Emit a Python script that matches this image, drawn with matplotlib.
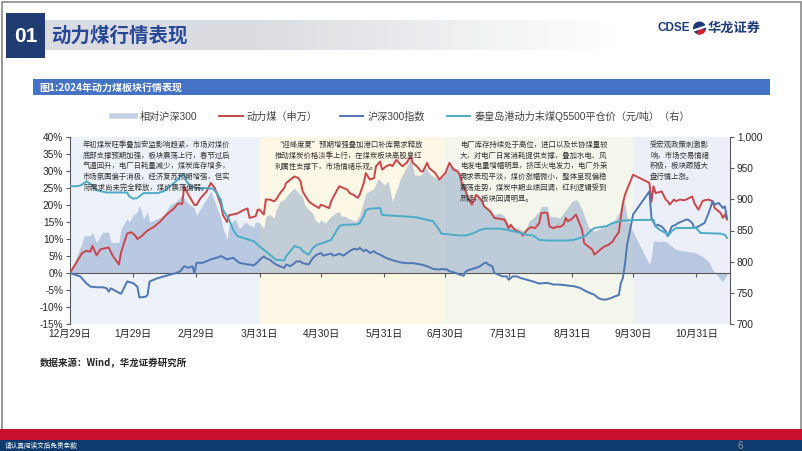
import numpy as np
import pandas as pd
import matplotlib
matplotlib.use('Agg')
import matplotlib.pyplot as plt
from matplotlib.lines import Line2D
from matplotlib.patches import Rectangle, Circle, Wedge
from matplotlib.ticker import FuncFormatter, MultipleLocator

plt.rcParams['font.family'] = ['Liberation Sans', 'Noto Sans CJK SC']

# ---- 数据（横轴为距 2023-12-29 的天数）----
base = pd.Timestamp('2023-12-29')

coal_days = [0, 6, 8, 10, 11, 13, 15, 19, 21, 24, 25, 28, 30, 32, 33, 35, 38, 41, 44, 47,
             51, 53, 55, 56, 58, 61, 62, 64, 67, 69, 71, 74, 75, 77, 78, 82, 85, 87, 88, 91,
             92, 93, 95, 96, 98, 100, 101, 103, 105, 106, 109, 110, 112, 113, 114, 117, 118, 120, 122, 123,
             125, 127, 128, 131, 132, 134, 136, 137, 139, 141, 142, 144, 145, 147, 149, 150, 152, 153, 155, 157,
             158, 160, 162, 163, 165, 167, 168, 170, 172, 173, 175, 176, 179, 181, 184, 186, 188, 190, 191, 192,
             194, 195, 197, 199, 200, 202, 203, 206, 208, 211, 213, 215, 216, 218, 221, 222, 224, 226, 228, 230,
             231, 233, 234, 235, 237, 239, 240, 242, 243, 244, 246, 248, 249, 251, 252, 254, 256, 257, 259, 261,
             262, 264, 266, 267, 269, 270, 271, 272, 273, 276, 284, 285, 286, 287, 290, 292, 293, 294, 296, 297,
             299, 301, 302, 305, 306, 308, 310, 311, 313, 315, 316, 319, 320, 321, 322]
coal_pct = [0, 5.9, 6.5, 6.3, 8.0, 5.2, 7.0, 7.5, 5.0, 2.5, 6.0, 11.6, 12.0, 11.0, 10.0, 10.8, 12.5, 13.5, 15.0, 17.0,
            19.0, 20.5, 20.3, 25.5, 23.0, 20.0, 20.0, 22.0, 24.0, 26.5, 25.0, 20.0, 17.0, 15.0, 17.0, 17.5, 18.5, 19.0, 16.2, 16.7,
            18.6, 18.6, 17.2, 21.6, 21.6, 21.1, 21.6, 23.5, 25.0, 26.5, 27.9, 28.4, 27.9, 27.0, 24.0, 21.1, 20.6, 19.8, 19.1, 20.1,
            19.6, 19.1, 21.1, 24.5, 25.5, 25.0, 24.5, 23.5, 23.0, 22.1, 23.0, 26.5, 29.4, 27.5, 27.9, 31.4, 32.8, 30.4, 31.4, 31.9,
            31.4, 33.3, 31.9, 31.4, 32.4, 34.3, 32.4, 31.4, 29.9, 29.9, 32.4, 30.9, 29.4, 27.5, 29.4, 32.4, 30.4, 29.9, 28.9, 26.5,
            24.0, 22.1, 20.1, 23.0, 22.5, 21.1, 19.6, 18.1, 16.2, 15.9, 15.7, 13.2, 14.2, 12.7, 11.8, 11.0, 12.7, 13.5, 13.2, 14.7,
            17.6, 17.8, 17.6, 13.7, 13.2, 13.7, 13.5, 14.2, 16.2, 15.2, 15.9, 17.2, 15.7, 12.7, 8.8, 7.8, 6.9, 5.4, 6.4, 7.4,
            7.8, 8.3, 9.3, 10.3, 12.0, 16.5, 20.5, 23.0, 24.5, 28.9, 26.5, 21.0, 25.5, 23.5, 24.0, 21.6, 21.1, 20.1, 21.6, 21.1,
            21.6, 21.4, 21.6, 22.5, 20.6, 18.6, 21.1, 21.4, 21.6, 21.1, 19.1, 17.6, 16.2, 17.2, 15.7]

hs300_days = [0, 5, 8, 10, 13, 16, 18, 19, 20, 23, 25, 26, 28, 31, 33, 34, 37, 38, 39, 43,
              46, 52, 54, 56, 58, 60, 61, 62, 65, 69, 72, 74, 77, 80, 83, 87, 88, 90, 92, 93,
              95, 96, 98, 100, 101, 103, 105, 106, 108, 110, 111, 113, 114, 117, 119, 121, 123, 124, 126, 128,
              129, 131, 132, 134, 137, 139, 141, 142, 144, 145, 147, 149, 150, 152, 155, 159, 162, 165, 168, 172,
              175, 178, 181, 182, 185, 186, 188, 190, 191, 193, 194, 196, 199, 201, 203, 204, 205, 207, 208, 210,
              212, 214, 215, 217, 219, 221, 224, 227, 230, 234, 237, 240, 244, 247, 250, 253, 257, 259, 261, 263,
              265, 267, 269, 270, 271, 272, 273, 276, 284, 285, 287, 288, 290, 292, 293, 295, 297, 298, 300, 302,
              303, 305, 306, 308, 311, 313, 315, 316, 318, 320, 321, 322]
hs300_pct = [0, -1.0, -3.0, -4.0, -4.2, -4.2, -4.5, -5.5, -4.5, -5.5, -6.1, -5.0, -2.5, -3.0, -4.0, -7.2, -7.0, -6.5, -2.5, -1.5,
             -1.0, 0.0, 0.5, 2.0, 1.5, 2.0, 0.0, 3.0, 3.0, 4.0, 4.5, 5.0, 4.0, 4.5, 3.0, 2.5, 2.5, 2.2, 3.2, 3.9,
             4.9, 4.4, 3.9, 2.9, 2.5, 2.0, 1.5, 2.5, 2.0, 2.9, 3.4, 3.4, 2.9, 2.5, 4.4, 5.4, 5.9, 5.1, 5.4, 5.7,
             5.1, 5.4, 5.7, 5.1, 6.4, 7.1, 6.9, 7.4, 6.4, 6.9, 5.9, 6.4, 5.9, 5.4, 4.4, 3.6, 3.1, 2.9, 2.9, 2.5,
             2.0, 1.2, 1.0, 1.2, 1.0, 0.5, 0.2, -0.2, -0.5, -0.8, 0.5, 1.0, 1.5, 2.0, 2.9, 3.1, 2.5, 2.0, 0.0, -0.5,
             -1.0, -1.0, -2.0, -1.0, -1.0, -1.5, -2.0, -2.5, -3.1, -2.9, -3.4, -3.4, -3.7, -3.9, -4.4, -5.4, -6.4, -7.4, -7.8, -7.8,
             -7.4, -6.9, -6.5, -3.0, -1.5, 2.5, 8.0, 17.2, 24.0, 16.2, 13.7, 14.2, 13.7, 12.3, 10.8, 13.7, 14.2, 14.7, 15.2, 15.7,
             15.7, 14.7, 13.2, 13.7, 14.7, 17.6, 21.1, 20.1, 20.6, 19.1, 19.6, 16.2]

qhd_days = [0, 3, 5, 7, 8, 10, 11, 13, 15, 18, 28, 29, 31, 33, 34, 36, 43, 46, 49, 52,
            54, 56, 57, 59, 62, 67, 70, 72, 74, 75, 78, 80, 82, 85, 88, 90, 92, 95, 98, 101,
            105, 106, 108, 110, 113, 114, 117, 119, 121, 124, 128, 130, 132, 134, 141, 142, 144, 145, 147, 152,
            153, 157, 162, 167, 170, 175, 178, 181, 182, 185, 188, 191, 194, 198, 201, 204, 211, 214, 217, 221,
            224, 227, 230, 234, 244, 247, 250, 253, 255, 257, 263, 266, 271, 279, 286, 287, 289, 292, 293, 295,
            297, 307, 309, 319, 321, 322]
qhd_price = [921, 921, 922, 926, 929, 925, 922, 915, 913, 911, 911, 905, 901, 902, 905, 910, 910, 913, 921, 929,
             937, 940, 929, 922, 918, 918, 917, 910, 899, 883, 867, 851, 841, 838, 835, 833, 827, 819, 811, 803,
             802, 809, 817, 825, 822, 817, 811, 822, 827, 830, 835, 846, 857, 859, 860, 862, 873, 883, 885, 886,
             875, 874, 873, 872, 871, 867, 865, 851, 845, 844, 843, 842, 842, 846, 851, 853, 853, 851, 849, 846,
             843, 842, 835, 834, 834, 835, 838, 842, 849, 854, 857, 862, 866, 867, 867, 857, 851, 846, 841, 849,
             854, 854, 846, 845, 843, 838]

rel_days = [0, 6, 7, 10, 11, 13, 15, 16, 19, 20, 24, 25, 28, 29, 31, 33, 34, 36, 38, 39,
            43, 46, 49, 52, 55, 57, 61, 62, 64, 67, 69, 71, 74, 75, 77, 78, 81, 83, 86, 88,
            90, 91, 93, 95, 96, 98, 100, 101, 103, 105, 106, 109, 110, 112, 114, 115, 117, 119, 120, 122,
            123, 125, 128, 130, 132, 133, 135, 136, 138, 140, 142, 145, 149, 151, 154, 156, 158, 162, 167, 169,
            172, 174, 177, 180, 183, 186, 189, 191, 193, 195, 197, 199, 201, 203, 206, 208, 211, 213, 215, 217,
            221, 223, 225, 227, 230, 231, 234, 235, 238, 240, 243, 246, 248, 249, 251, 253, 254, 256, 257, 260,
            262, 265, 267, 269, 270, 271, 272, 273, 276, 284, 285, 286, 288, 292, 294, 297, 302, 307, 310, 313,
            315, 319, 320, 322]
rel_pct = [0, 9.0, 11.0, 11.0, 12.0, 9.0, 11.0, 12.0, 12.0, 9.0, 9.0, 13.0, 16.0, 15.0, 17.0, 18.0, 20.0, 16.0, 18.0, 15.0,
           16.0, 17.0, 20.0, 21.0, 23.0, 21.0, 19.0, 17.0, 19.0, 22.0, 24.0, 21.0, 16.0, 13.0, 10.0, 14.0, 16.0, 13.0, 15.0, 14.0,
           13.5, 15.0, 14.7, 13.2, 16.7, 17.2, 16.2, 18.6, 21.1, 21.6, 22.5, 24.5, 25.0, 23.5, 22.5, 20.1, 18.6, 17.6, 15.7, 14.7,
           15.7, 14.7, 16.7, 17.6, 18.1, 16.7, 16.7, 16.2, 15.7, 15.2, 17.0, 23.4, 24.9, 27.8, 25.9, 27.0, 21.0, 27.8, 33.6, 28.8,
           28.8, 31.2, 28.8, 27.8, 28.3, 31.5, 30.9, 29.4, 26.5, 22.5, 21.1, 23.5, 22.5, 20.1, 18.6, 17.2, 17.6, 16.7, 14.2, 13.7,
           12.7, 12.3, 15.2, 16.2, 18.1, 19.6, 19.6, 16.7, 16.5, 16.2, 18.5, 21.0, 21.6, 21.1, 18.6, 15.2, 13.7, 12.7, 12.3, 13.2,
           13.7, 14.2, 15.7, 17.5, 19.5, 22.0, 20.5, 16.5, 12.0, 2.5, 4.8, 9.5, 9.3, 9.3, 8.3, 6.9, 6.4, 5.9, 4.9, 3.4,
           1.0, -2.0, -2.5, -0.5]

tick_dates = ['2023-12-29', '2024-01-29', '2024-02-29', '2024-03-31', '2024-04-30', '2024-05-31',
              '2024-06-30', '2024-07-31', '2024-08-31', '2024-09-30', '2024-10-31']
tick_labels = ['12月29日', '1月29日', '2月29日', '3月31日', '4月30日', '5月31日',
               '6月30日', '7月31日', '8月31日', '9月30日', '10月31日']

phase_edges = ['2023-12-29', '2024-03-31', '2024-06-30', '2024-09-30', '2024-11-16 12:00']
phase_colors = ['#edf1f9', '#fdf7e6', '#f4f6eb', '#eceff7']

notes = [
    '年初煤炭旺季叠加安监影响趋紧，市场对煤价\n底部支撑预期加强，板块震荡上行，春节过后\n气温回升，电厂日耗量减少，煤炭库存增多，\n'
    '市场氛围偏于消极，经济复苏预期增强，但实\n际需求尚未完全释放，煤价震荡偏弱。',
    '“迎峰度夏”预期增强叠加港口补库需求释放\n推动煤炭价格淡季上行，在煤炭板块高股息红\n利属性支撑下，市场情绪乐观。',
    '电厂库存持续处于高位，进口以及长协煤量较\n大，对电厂日常消耗提供支撑，叠加水电、风\n电发电量增幅明显，挤压火电发力，电厂外采\n'
    '需求表现平淡，煤价涨幅微小，整体呈现偏稳\n震荡走势，煤炭中期业绩回调，红利逻辑受到\n质疑，板块回调明显。',
    '受宏观政策刺激影\n响，市场交易情绪\n积极，板块跟随大\n盘行情上涨。',
]
note_pos = [(83, 141), (275, 141), (460, 141), (650, 141)]


def to_dates(days):
    return base + pd.to_timedelta(days, unit='D')


W, H = 802, 451
fig = plt.figure(figsize=(W / 100, H / 100), dpi=100)

# ---- 页面背景（像素坐标）----
bg = fig.add_axes([0, 0, 1, 1])
bg.axis('off')

grad = np.ones((2, 400, 3))
t = np.linspace(0, 1, 400)
shade = np.clip((t - 0.35) / 0.6, 0, 1)
for i, c in enumerate((0.86, 0.865, 0.885)):
    grad[:, :, i] = c + (1 - c) * shade
bg.imshow(grad, extent=(45, 650, 50, 20), aspect='auto', zorder=1)

bg.add_patch(Rectangle((1.5, 1.5), 799, 428, facecolor='none', edgecolor='#8a8a8a', lw=1.2, zorder=2))
bg.add_patch(Rectangle((6, 13), 39, 45, facecolor='#1f3c73', edgecolor='none', zorder=3))
bg.text(25.5, 36, '01', color='white', fontsize=15, fontweight='bold', ha='center', va='center', zorder=4)
bg.text(51, 36, '动力煤行情表现', color='#274896', fontsize=14, fontweight='bold', ha='left', va='center',
        family=['Noto Sans CJK SC'], zorder=4)

# 标识
bg.text(657, 28, 'CDSE', color='#1d3b78', fontsize=8.5, fontweight='bold', ha='left', va='center', zorder=4)
bg.add_patch(Circle((699.5, 28), 6.5, facecolor='#1d3b78', edgecolor='none', zorder=4))
bg.add_patch(Wedge((699.5, 28), 6.5, 20, 120, facecolor='#d0202e', edgecolor='none', zorder=5))
bg.plot([693.5, 705.5], [30.5, 26.5], color='white', lw=1.6, zorder=6)
bg.text(708, 28, '华龙证券', color='#1d3b78', fontsize=9.5, fontweight='bold', ha='left', va='center',
        family=['Noto Sans CJK SC'], zorder=4)

# 图表标题条
bg.add_patch(Rectangle((33, 79), 737, 16, facecolor='#4472c4', edgecolor='none', zorder=3))
bg.text(39, 87.5, '图1:2024年动力煤板块行情表现', color='white', fontsize=7.2, fontweight='bold',
        ha='left', va='center', family=['Noto Sans CJK SC'], zorder=4)

bg.text(40, 363, '数据来源：Wind，华龙证券研究所', color='#262626', fontsize=6.8, fontweight='bold',
        ha='left', va='center', family=['Noto Sans CJK SC'], zorder=4)

# 页脚
bg.add_patch(Rectangle((0, 429), W, 11, facecolor='#c8102e', edgecolor='none', zorder=3))
bg.add_patch(Rectangle((0, 440), W, 11, facecolor='#0e3a6d', edgecolor='none', zorder=3))
bg.text(5, 446, '请认真阅读文后免责条款', color='white', fontsize=4.8, ha='left', va='center',
        family=['Noto Sans CJK SC'], zorder=4)
bg.text(737, 446, '6', color='#9a9a9a', fontsize=7, ha='left', va='center', zorder=4)

bg.set_xlim(0, W)
bg.set_ylim(H, 0)

# ---- 主图 ----
ax = fig.add_axes([70 / W, 1 - 324 / H, 660 / W, 187 / H])
ax.set_facecolor('none')

for i in range(4):
    ax.axvspan(pd.Timestamp(phase_edges[i]), pd.Timestamp(phase_edges[i + 1]),
               color=phase_colors[i], lw=0, zorder=0)

ax.fill_between(to_dates(rel_days), 0, rel_pct, color='#6d8fc0', alpha=0.4, lw=0, zorder=2)
ax.plot(to_dates(coal_days), coal_pct, color='#c9474a', lw=1.4, zorder=3)
ax.plot(to_dates(hs300_days), hs300_pct, color='#4f77b4', lw=1.4, zorder=3)

ax.set_xlim(pd.Timestamp(phase_edges[0]), pd.Timestamp(phase_edges[-1]))
ax.set_ylim(-15, 40)
ax.yaxis.set_major_locator(MultipleLocator(5))
ax.yaxis.set_major_formatter(FuncFormatter(lambda v, p: f'{v:.0f}%'))

tick_ts = [pd.Timestamp(d) for d in tick_dates]
ax.set_xticks(tick_ts)
ax.tick_params(axis='x', length=3, direction='out', color='#595959', labelbottom=False)
ax.tick_params(axis='y', length=3, direction='out', color='#595959', labelsize=7.3,
               labelcolor='#262626', pad=2)
ax.spines['bottom'].set_position(('data', 0))
ax.spines['bottom'].set_color('#595959')
ax.spines['left'].set_color('#595959')
ax.spines['bottom'].set_linewidth(0.8)
ax.spines['left'].set_linewidth(0.8)
ax.spines['top'].set_visible(False)
ax.spines['right'].set_visible(False)

xt = ax.get_xaxis_transform()
for d, lab in zip(tick_ts, tick_labels):
    ax.text(d, -0.055, lab, transform=xt, ha='center', va='center', fontsize=7.3, color='#262626')

ax2 = ax.twinx()
ax2.plot(to_dates(qhd_days), qhd_price, color='#4bacc6', lw=1.4, zorder=3)
ax2.set_ylim(700, 1000)
ax2.yaxis.set_major_locator(MultipleLocator(50))
ax2.yaxis.set_major_formatter(FuncFormatter(lambda v, p: f'{v:,.0f}'))
ax2.tick_params(axis='y', length=3, direction='out', color='#595959', labelsize=7.3,
                labelcolor='#262626', pad=2)
for s in ('top', 'left', 'bottom'):
    ax2.spines[s].set_visible(False)
ax2.spines['right'].set_color('#595959')
ax2.spines['right'].set_linewidth(0.8)

# 阶段说明
for (px, py), s in zip(note_pos, notes):
    ax2.text(px, py, s, transform=bg.transData, ha='left', va='top', fontsize=5.3,
             color='#333333', linespacing=1.45, family=['Noto Sans CJK SC'], zorder=6)

# 图例
handles = [Line2D([], [], color='#6d8fc0', alpha=0.4, lw=4),
           Line2D([], [], color='#c9474a', lw=1.4),
           Line2D([], [], color='#4f77b4', lw=1.4),
           Line2D([], [], color='#4bacc6', lw=1.4)]
labels = ['相对沪深300', '动力煤（申万）', '沪深300指数', '秦皇岛港动力末煤Q5500平仓价（元/吨）（右）']
fig.legend(handles, labels, loc='center', bbox_to_anchor=(401 / W, 1 - 116 / H), ncol=4,
           frameon=False, fontsize=7.3, handlelength=2.3, columnspacing=2.2, handletextpad=0.4,
           labelcolor='#404040')

fig.savefig('out.png', dpi=100)
